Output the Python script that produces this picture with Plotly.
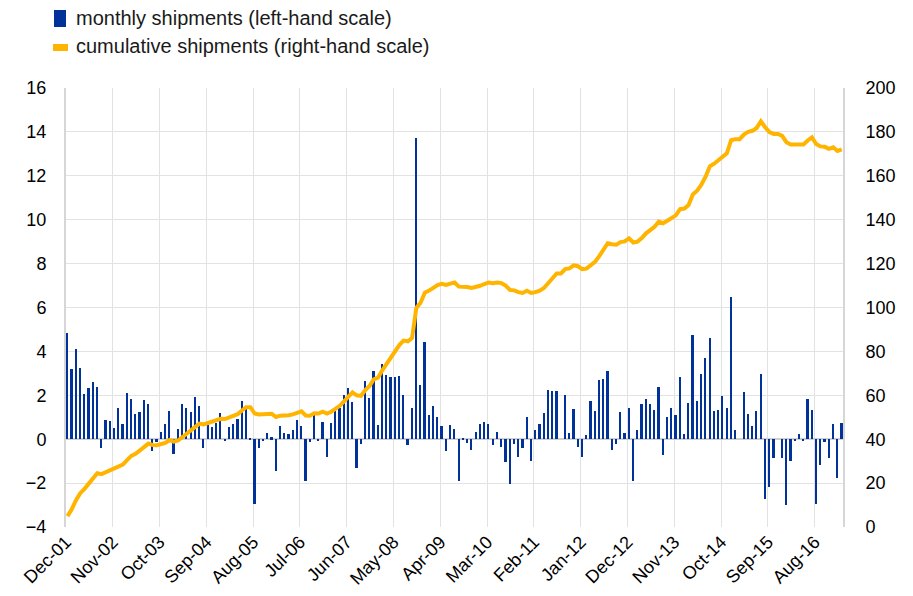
import pandas as pd
import plotly.graph_objects as go

# Monthly dates Dec-01 .. Feb-17
months = pd.date_range("2001-12-01", "2017-02-01", freq="MS")
month_labels = [d.strftime("%b-%y") for d in months]

monthly_shipments = [
    4.86, 3.19, 4.10, 3.23, 2.05, 2.32, 2.60, 2.40, -0.38, 0.88,
    0.84, 0.50, 1.43, 0.71, 2.11, 1.84, 1.15, 1.25, 1.78, 1.60,
    -0.53, -0.15, 0.32, 0.71, 1.28, -0.68, 0.46, 1.60, 1.44, 1.26,
    1.91, 1.50, -0.38, 0.64, 0.56, 0.76, 1.18, -0.10, 0.56, 0.68,
    0.91, 1.75, 1.44, 0.05, -2.96, -0.42, -0.08, 0.30, 0.08, -1.47,
    0.59, 0.26, 0.23, 0.41, 0.88, 0.59, -1.90, -0.15, 1.14, -0.10,
    0.77, -0.80, 0.75, 1.33, 1.44, 2.00, 2.35, 1.69, -1.30, -0.23,
    2.65, 1.86, 3.09, 0.65, 3.42, 2.92, 2.85, 2.85, 2.90, 2.00,
    -0.28, 1.42, 13.70, 2.47, 4.43, 1.08, 1.49, 1.00, 0.59, -0.53,
    0.64, 0.46, -1.90, 0.03, -0.18, -0.49, 0.35, 0.67, 0.80, 0.68,
    -0.26, 0.32, -0.36, -1.02, -2.02, -0.20, -0.80, -0.38, 1.00, -1.01,
    0.41, 0.69, 1.18, 2.24, 2.19, 2.20, 0.00, 2.00, 0.29, 1.36,
    -0.34, -0.81, 0.17, 1.75, 1.30, 2.68, 2.75, 3.12, -0.50, -0.20,
    1.22, 0.26, 1.44, -1.91, 0.40, 1.59, 1.84, 1.59, 1.34, 2.37,
    -0.71, 1.03, 1.43, 1.11, 2.84, 0.23, 1.66, 4.75, 1.76, 2.98,
    3.72, 4.62, 1.28, 1.31, 1.99, 1.40, 6.48, 0.43, 0.00, 2.13,
    1.17, 0.59, 1.28, 2.99, -2.73, -2.16, -0.84, 0.00, -0.84, -2.99,
    -0.99, -0.08, 0.23, -0.10, 1.82, 1.34, -2.93, -1.18, -0.15, -0.87,
    0.68, -1.75, 0.73,
]

cumulative_shipments = [
    4.9, 8.1, 12.2, 15.4, 17.4, 19.8, 22.1, 24.5, 24.1, 25.0,
    25.8, 26.3, 27.7, 28.4, 30.5, 32.4, 33.3, 34.6, 36.4, 38.0,
    37.4, 37.3, 37.6, 38.3, 39.6, 38.9, 39.4, 41.0, 42.4, 43.7,
    45.6, 47.1, 46.7, 47.3, 47.9, 48.7, 49.3, 49.2, 49.8, 50.5,
    51.4, 53.1, 54.6, 54.6, 51.7, 51.3, 51.2, 51.5, 51.6, 50.1,
    50.7, 50.6, 50.9, 51.3, 52.2, 52.7, 50.8, 50.7, 51.8, 51.7,
    52.5, 51.7, 52.5, 53.8, 55.2, 57.2, 59.6, 61.3, 60.0, 59.7,
    62.4, 64.2, 67.3, 68.0, 71.4, 74.3, 77.2, 80.0, 82.9, 84.9,
    84.6, 86.1, 99.8, 102.2, 106.7, 107.7, 109.2, 110.2, 110.8, 110.3,
    110.9, 111.4, 109.5, 109.5, 109.3, 108.9, 109.2, 109.9, 110.7, 111.4,
    111.1, 111.4, 111.1, 110.0, 108.0, 107.8, 107.0, 106.6, 107.6, 106.6,
    107.0, 107.7, 108.9, 111.1, 113.3, 115.5, 115.5, 117.5, 117.8, 119.2,
    118.8, 117.5, 117.7, 119.5, 120.8, 123.4, 126.2, 129.3, 128.8, 128.6,
    129.8, 130.1, 131.5, 129.6, 130.0, 131.6, 133.8, 135.4, 136.8, 139.1,
    138.4, 139.5, 140.9, 142.0, 144.8, 145.1, 146.7, 151.5, 153.2, 155.9,
    159.6, 164.3, 165.5, 166.9, 168.8, 170.2, 176.2, 176.7, 176.7, 178.8,
    180.0, 180.5, 181.8, 184.8, 182.1, 179.9, 179.1, 179.1, 178.2, 175.3,
    174.3, 174.2, 174.4, 174.3, 176.1, 177.5, 174.5, 173.4, 173.2, 172.3,
    173.0, 171.3, 172.0,
]

legend_labels = ["monthly shipments (left-hand scale)",
                 "cumulative shipments (right-hand scale)"]

BLUE = "#003299"
ORANGE = "#FFB400"
GRID = "#e2e2e2"
FONT = "Liberation Sans, Arial, sans-serif"
FS = 18

n = len(monthly_shipments)
x = list(range(n))
tick_idx = list(range(0, n, 11))
offset = 0.35
tickvals = [i - offset for i in tick_idx]
ticktext = [month_labels[i] for i in tick_idx]

fig = go.Figure()
fig.add_trace(go.Bar(x=x, y=monthly_shipments, marker_color=BLUE,
                     marker_line_width=0, width=0.4, name=legend_labels[0],
                     showlegend=False))
fig.add_trace(go.Scatter(x=x, y=cumulative_shipments, mode="lines",
                         line=dict(color=ORANGE, width=4), yaxis="y2",
                         name=legend_labels[1], showlegend=False))

# page body has an 8px margin: figure placed at (8, 8) in the window
OFF = 8
W, H = 905, 588
L, R, T, B = 58, 70, 80, 69
pw, ph = W - L - R, H - T - B

def px(xw):
    return (xw - OFF - L) / pw

def py(yw):
    return (OFF + H - B - yw) / ph

shapes = [
    dict(type="rect", xref="paper", yref="paper", x0=px(54), x1=px(66),
         y0=py(27), y1=py(10), fillcolor=BLUE, line_width=0),
    dict(type="rect", xref="paper", yref="paper", x0=px(53), x1=px(68),
         y0=py(51), y1=py(44), fillcolor=ORANGE, line_width=0),
]
annotations = [
    dict(xref="paper", yref="paper", x=px(74), y=py(18), text=legend_labels[0],
         showarrow=False, xanchor="left", yanchor="middle",
         font=dict(size=20, color="#1a1a1a", family=FONT)),
    dict(xref="paper", yref="paper", x=px(74), y=py(46), text=legend_labels[1],
         showarrow=False, xanchor="left", yanchor="middle",
         font=dict(size=20, color="#1a1a1a", family=FONT)),
]

fig.update_layout(
    width=W, height=H,
    margin=dict(l=L, r=R, t=T, b=B, autoexpand=False),
    plot_bgcolor="white", paper_bgcolor="white",
    font=dict(family=FONT, size=FS, color="#000000"),
    shapes=shapes, annotations=annotations,
    bargap=0,
    xaxis=dict(range=[-offset, n - 1 + 0.3], tickmode="array",
               tickvals=tickvals, ticktext=ticktext, tickangle=-45,
               showgrid=True, gridcolor=GRID, gridwidth=1, zeroline=False,
               showline=False, ticks="", tickfont=dict(size=FS),
               automargin=False),
    yaxis=dict(range=[-4, 16], dtick=2, tick0=0, showgrid=True,
               gridcolor=GRID, gridwidth=1, zeroline=True,
               zerolinecolor="#cfcfcf", zerolinewidth=2,
               showline=True, linecolor="#d6d6d6", linewidth=2,
               ticks="outside", ticklen=14, tickcolor="rgba(0,0,0,0)",
               tickfont=dict(size=FS), automargin=False),
    yaxis2=dict(range=[0, 200], dtick=20, overlaying="y", side="right",
                showgrid=False, zeroline=False, showline=True,
                linecolor="#d6d6d6", linewidth=2,
                ticks="outside", ticklen=17, tickcolor="rgba(0,0,0,0)",
                tickfont=dict(size=FS), automargin=False),
)

fig.write_html("out.html")
